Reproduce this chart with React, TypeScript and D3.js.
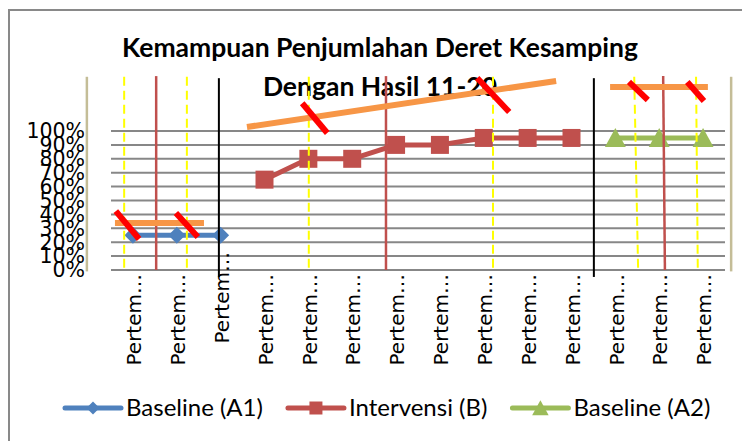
import { useEffect, useRef } from "react";
import * as d3 from "d3";

const W = 742;
const H = 441;
const MARGIN = { top: 131, right: 17, bottom: 171, left: 111 };

const TITLE = ["Kemampuan Penjumlahan Deret Kesamping", "Dengan Hasil 11-20"];
const CATEGORIES = [
  "Pertem…", "Pertem…", "Pertem…", "Pertem…", "Pertem…", "Pertem…", "Pertem…",
  "Pertem…", "Pertem…", "Pertem…", "Pertem…", "Pertem…", "Pertem…", "Pertem…",
];
const Y_TICKS = [0, 0.1, 0.2, 0.3, 0.4, 0.5, 0.6, 0.7, 0.8, 0.9, 1];

// one value per category, null where the phase does not apply
const BASELINE_A1 = [0.25, 0.25, 0.25, null, null, null, null, null, null, null, null, null, null, null];
const INTERVENSI_B = [null, null, null, 0.65, 0.8, 0.8, 0.9, 0.9, 0.95, 0.95, 0.95, null, null, null];
const BASELINE_A2 = [null, null, null, null, null, null, null, null, null, null, null, 0.95, 0.95, 0.95];

// hand-drawn annotations, in category units (0..14) and value units
const YELLOW_LINES = [[0.3, 0.3], [1.73, 1.73], [4.51, 4.51], [8.71, 8.71], [11.93, 12.02], [13.34, 13.38]];
const BROWN_LINES = [[1.03, 1.03], [6.27, 6.27], [12.59, 12.63]];
const PHASE_LINES = [2.46, 11.01];
const TAN_LINES = [-0.55, 14.14];
const TREND_LINES = [
  [0.09, 0.338, 2.12, 0.338],
  [3.1, 1.029, 10.15, 1.36],
  [11.38, 1.317, 13.61, 1.317],
];
const SLASHES = [
  [0.11, 0.424, 0.64, 0.223],
  [1.48, 0.41, 1.98, 0.237],
  [4.36, 1.2, 4.93, 0.986],
  [8.35, 1.381, 9.08, 1.137],
  [11.81, 1.353, 12.24, 1.223],
  [13.14, 1.353, 13.52, 1.216],
];

const SERIES = [
  { name: "Baseline (A1)", values: BASELINE_A1, color: "#4f81bd", marker: "diamond" },
  { name: "Intervensi (B)", values: INTERVENSI_B, color: "#c0504d", marker: "square" },
  { name: "Baseline (A2)", values: BASELINE_A2, color: "#9bbb59", marker: "triangle" },
];

function markerPath(kind: string, s: number) {
  if (kind === "diamond") return `M0,${-s}L${s},0L0,${s}L${-s},0Z`;
  if (kind === "square") return `M${-s},${-s}H${s}V${s}H${-s}Z`;
  return `M0,${-s * 1.05}L${s * 1.1},${s * 0.95}L${-s * 1.1},${s * 0.95}Z`;
}

export default function App() {
  const svgRef = useRef<SVGSVGElement>(null);

  useEffect(() => {
    document.body.style.margin = "0";
    const svg = d3.select(svgRef.current!);
    svg.selectAll("*").remove();

    const x0 = MARGIN.left;
    const x1 = W - MARGIN.right;
    const x = d3.scaleBand<number>().domain(d3.range(CATEGORIES.length)).range([x0, x1]);
    const xc = d3.scaleLinear().domain([0, CATEGORIES.length]).range([x0, x1]);
    const y = d3.scaleLinear().domain([0, 1]).range([H - MARGIN.bottom, MARGIN.top]);
    const cx = (i: number) => x(i)! + x.bandwidth() / 2;

    // outer frame
    svg.append("rect")
      .attr("x", 9).attr("y", 10).attr("width", W).attr("height", H)
      .attr("fill", "none").attr("stroke", "#898989").attr("stroke-width", 2);

    // title
    svg.append("g")
      .selectAll("text")
      .data(TITLE)
      .join("text")
      .attr("x", 380)
      .attr("y", (_, i) => 57 + i * 39)
      .attr("text-anchor", "middle")
      .attr("font-family", "Lato, sans-serif")
      .attr("font-weight", 700)
      .attr("font-size", 26.5)
      .text((d) => d);

    // grid
    svg.append("g")
      .selectAll("line")
      .data(Y_TICKS)
      .join("line")
      .attr("x1", x0).attr("x2", x1)
      .attr("y1", (d) => y(d)).attr("y2", (d) => y(d))
      .attr("stroke", "#878787").attr("stroke-width", 2);

    // y labels
    svg.append("g")
      .selectAll("text")
      .data(Y_TICKS)
      .join("text")
      .attr("x", 85)
      .attr("y", (d) => y(d))
      .attr("dy", "0.36em")
      .attr("text-anchor", "end")
      .attr("font-family", "DejaVu Sans, sans-serif")
      .attr("font-size", 20.5)
      .text((d) => d3.format(".0%")(d));

    // x labels
    svg.append("g")
      .selectAll("text")
      .data(CATEGORIES)
      .join("text")
      .attr("transform", (_, i) => `translate(${cx(i) + 1},${y(0) + (i === 2 ? -18 : 4)}) rotate(-90)`)
      .attr("dy", "0.36em")
      .attr("text-anchor", "end")
      .attr("font-family", "DejaVu Sans, sans-serif")
      .attr("font-size", 20)
      .text((d) => d);

    // series
    const line = d3.line<number | null>()
      .defined((d) => d != null)
      .x((_, i) => cx(i))
      .y((d) => y(d as number));

    SERIES.forEach((s) => {
      svg.append("path")
        .datum(s.values)
        .attr("fill", "none")
        .attr("stroke", s.color)
        .attr("stroke-width", 5)
        .attr("stroke-linejoin", "round")
        .attr("d", line);
      const size = s.marker === "diamond" ? 8.5 : s.marker === "square" ? 9 : 9.5;
      svg.append("g")
        .selectAll("path")
        .data(s.values.map((v, i) => ({ v, i })).filter((d) => d.v != null))
        .join("path")
        .attr("transform", (d) => `translate(${cx(d.i)},${y(d.v as number)})`)
        .attr("d", markerPath(s.marker, size))
        .attr("fill", s.color);
    });

    // annotations
    const top = 1.39;
    const ann = svg.append("g");
    ann.selectAll(".tan")
      .data(TAN_LINES)
      .join("line")
      .attr("x1", (d) => xc(d)).attr("x2", (d) => xc(d))
      .attr("y1", y(top)).attr("y2", y(-0.01))
      .attr("stroke", "#c4bd97").attr("stroke-width", 2.5);
    ann.selectAll(".yellow")
      .data(YELLOW_LINES)
      .join("line")
      .attr("x1", (d) => xc(d[0])).attr("x2", (d) => xc(d[1]))
      .attr("y1", y(top)).attr("y2", y(-0.01))
      .attr("stroke", "#ffff00").attr("stroke-width", 2)
      .attr("stroke-dasharray", "9,5");
    ann.selectAll(".brown")
      .data(BROWN_LINES)
      .join("line")
      .attr("x1", (d) => xc(d[0])).attr("x2", (d) => xc(d[1]))
      .attr("y1", y(top + 0.005)).attr("y2", y(0))
      .attr("stroke", "#c0504d").attr("stroke-width", 2.5);
    ann.selectAll(".phase")
      .data(PHASE_LINES)
      .join("line")
      .attr("x1", (d) => xc(d)).attr("x2", (d) => xc(d))
      .attr("y1", y(top - 0.01)).attr("y2", y(-0.05))
      .attr("stroke", "#000").attr("stroke-width", 2);
    ann.selectAll(".trend")
      .data(TREND_LINES)
      .join("line")
      .attr("x1", (d) => xc(d[0])).attr("y1", (d) => y(d[1]))
      .attr("x2", (d) => xc(d[2])).attr("y2", (d) => y(d[3]))
      .attr("stroke", "#f79646").attr("stroke-width", 6);
    ann.selectAll(".slash")
      .data(SLASHES)
      .join("line")
      .attr("x1", (d) => xc(d[0])).attr("y1", (d) => y(d[1]))
      .attr("x2", (d) => xc(d[2])).attr("y2", (d) => y(d[3]))
      .attr("stroke", "#ff0000").attr("stroke-width", 6);

    // legend
    const lg = svg.append("g").attr("transform", "translate(0,408)");
    let lx = 65;
    SERIES.forEach((s) => {
      const item = lg.append("g").attr("transform", `translate(${lx},0)`);
      item.append("line")
        .attr("x1", 0).attr("x2", 56)
        .attr("stroke", s.color).attr("stroke-width", 5)
        .attr("stroke-linecap", "round");
      item.append("path")
        .attr("transform", "translate(28,0)")
        .attr("d", markerPath(s.marker, s.marker === "triangle" ? 7.5 : 6.5))
        .attr("fill", s.color);
      const t = item.append("text")
        .attr("x", 61).attr("y", 8)
        .attr("font-family", "Lato, sans-serif")
        .attr("font-size", 24)
        .text(s.name);
      const tw = (t.node() as SVGTextElement).getComputedTextLength();
      lx += 61 + tw + 25;
    });
  }, []);

  return <svg ref={svgRef} width={W} height={H} style={{ display: "block", background: "#fff" }} />;
}
